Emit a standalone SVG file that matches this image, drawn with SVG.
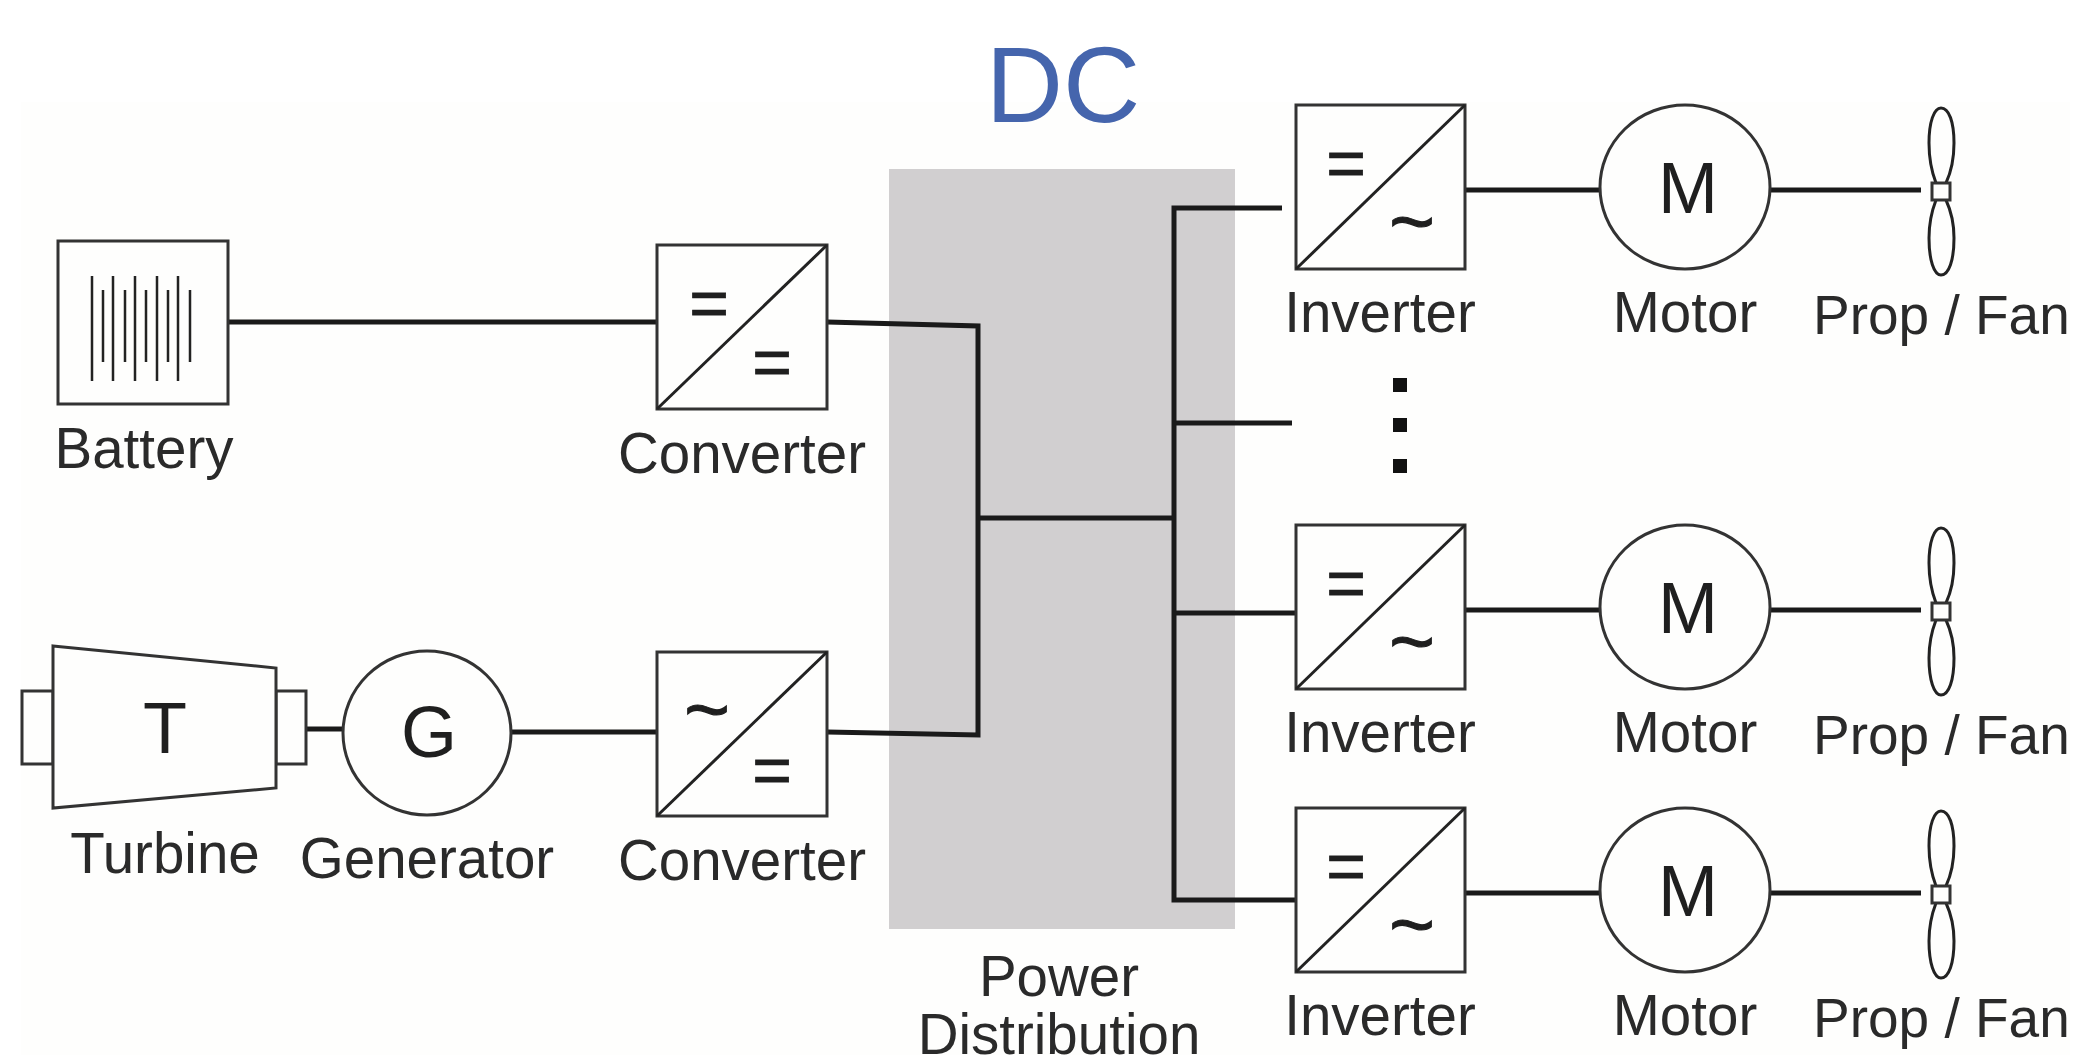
<svg xmlns="http://www.w3.org/2000/svg" width="2082" height="1055" viewBox="0 0 2082 1055">
<style>
.box{fill:#fefefd;stroke:#333;stroke-width:3}
.thin{fill:none;stroke:#222;stroke-width:3}
.wire{fill:none;stroke:#1a1a1a;stroke-width:5}
.lbl{font-family:"Liberation Sans",Arial,sans-serif;font-size:56.500px;fill:#2a2a2a;text-anchor:middle}
.prop{font-family:"Liberation Sans",Arial,sans-serif;font-size:55px;fill:#2a2a2a}
.big{font-family:"Liberation Sans",Arial,sans-serif;font-size:72px;fill:#1f1f1f;text-anchor:middle}
.sym{font-family:"Liberation Sans",Arial,sans-serif;font-size:68px;fill:#1f1f1f;stroke:#1f1f1f;stroke-width:.8px;text-anchor:middle}
.tld{font-family:"Liberation Sans",Arial,sans-serif;font-size:78px;fill:#1f1f1f;stroke:#1f1f1f;stroke-width:1.200px;text-anchor:middle}
</style>
<defs>
<g id="invShape">
<rect class="box" x="1296" y="105" width="169" height="164"/>
<line class="thin" x1="1296" y1="269" x2="1465" y2="105"/>
<text class="sym" x="1346" y="187">=</text>
<text class="tld" x="1412" y="248">~</text>
</g>
<g id="motShape">
<ellipse class="box" cx="1685" cy="187" rx="85" ry="82"/>
<text class="big" x="1688" y="213">M</text>
</g>
<g id="propShape">
<path class="thin" d="M1936 183C1931 170 1929 155 1929 143C1929 122 1934 108 1941 108C1949 108 1954 122 1954 143C1954 155 1952 170 1946 183"/>
<path class="thin" d="M1936 200C1931 213 1929 226 1929 238C1929 260 1934 275 1941 275C1949 275 1954 260 1954 238C1954 226 1952 213 1946 200"/>
<rect class="box" x="1932" y="183" width="18" height="17"/>
</g>
</defs>
<rect width="2082" height="1055" fill="#ffffff"/>
<rect x="21" y="102" width="2049" height="953" fill="#fefefd"/>
<g id="power-distribution">
<rect x="889" y="169" width="346" height="760" fill="#d1cfd0"/>
<text class="lbl" x="1059" y="996">Power</text>
<text class="lbl" x="1059" y="1054">Distribution</text>
</g>
<g id="connectors">
<path class="wire" d="M228 322H657"/>
<path class="wire" d="M827 322L978 326V735L827 732"/>
<path class="wire" d="M306 729H343M510 732H657"/>
<path class="wire" d="M978 518H1174"/>
<path class="wire" d="M1282 208H1174V900H1296"/>
<path class="wire" d="M1174 423H1292M1174 613H1296"/>
<path class="wire" d="M1465 190H1601M1770 190H1921"/>
<path class="wire" d="M1465 610H1601M1770 610H1921"/>
<path class="wire" d="M1465 893H1601M1770 893H1921"/>
</g>
<g id="dc-label"><text x="1063" y="122" font-family="Liberation Sans, Arial, sans-serif" font-size="107" fill="#4565ad" text-anchor="middle">DC</text></g>
<g id="battery">
<rect class="box" x="58" y="241" width="170" height="163"/>
<path class="thin" style="stroke-width:2.500" d="M92 276V381M113 276V381M135 276V381M157 276V381M178 276V381M103 290V362M125 290V362M146 290V362M168 290V362M190 290V362"/>
<text class="lbl" x="144" y="468">Battery</text>
</g>
<g id="converter-1">
<rect class="box" x="657" y="245" width="170" height="164"/>
<line class="thin" x1="657" y1="409" x2="827" y2="245"/>
<text class="sym" x="709" y="327">=</text>
<text class="sym" x="772" y="386">=</text>
<text class="lbl" x="742" y="473">Converter</text>
</g>
<g id="turbine">
<rect class="box" x="22" y="691" width="31" height="73"/>
<rect class="box" x="276" y="691" width="30" height="73"/>
<path class="box" d="M53 646L276 668V788L53 808Z"/>
<text class="big" x="165" y="753">T</text>
<text class="lbl" x="165" y="873">Turbine</text>
</g>
<g id="generator">
<ellipse class="box" cx="427" cy="733" rx="84" ry="82"/>
<text class="big" x="429" y="757">G</text>
<text class="lbl" x="427" y="878">Generator</text>
</g>
<g id="converter-2">
<rect class="box" x="657" y="652" width="170" height="164"/>
<line class="thin" x1="657" y1="816" x2="827" y2="652"/>
<text class="tld" x="707" y="736">~</text>
<text class="sym" x="772" y="794">=</text>
<text class="lbl" x="742" y="880">Converter</text>
</g>
<g id="inverter-1"><use href="#invShape"/><text class="lbl" x="1380" y="332">Inverter</text></g>
<g id="motor-1"><use href="#motShape"/><text class="lbl" x="1685" y="332">Motor</text></g>
<g id="prop-1"><use href="#propShape"/><text class="prop" x="1813" y="334">Prop / Fan</text></g>
<g id="inverter-2"><use href="#invShape" y="420"/><text class="lbl" x="1380" y="752">Inverter</text></g>
<g id="motor-2"><use href="#motShape" y="420"/><text class="lbl" x="1685" y="752">Motor</text></g>
<g id="prop-2"><use href="#propShape" y="420"/><text class="prop" x="1813" y="754">Prop / Fan</text></g>
<g id="inverter-3"><use href="#invShape" y="703"/><text class="lbl" x="1380" y="1035">Inverter</text></g>
<g id="motor-3"><use href="#motShape" y="703"/><text class="lbl" x="1685" y="1035">Motor</text></g>
<g id="prop-3"><use href="#propShape" y="703"/><text class="prop" x="1813" y="1037">Prop / Fan</text></g>
<g id="ellipsis"><rect x="1393" y="378" width="14" height="14" fill="#111"/><rect x="1393" y="418" width="14" height="14" fill="#111"/><rect x="1393" y="459" width="14" height="14" fill="#111"/></g>
</svg>
